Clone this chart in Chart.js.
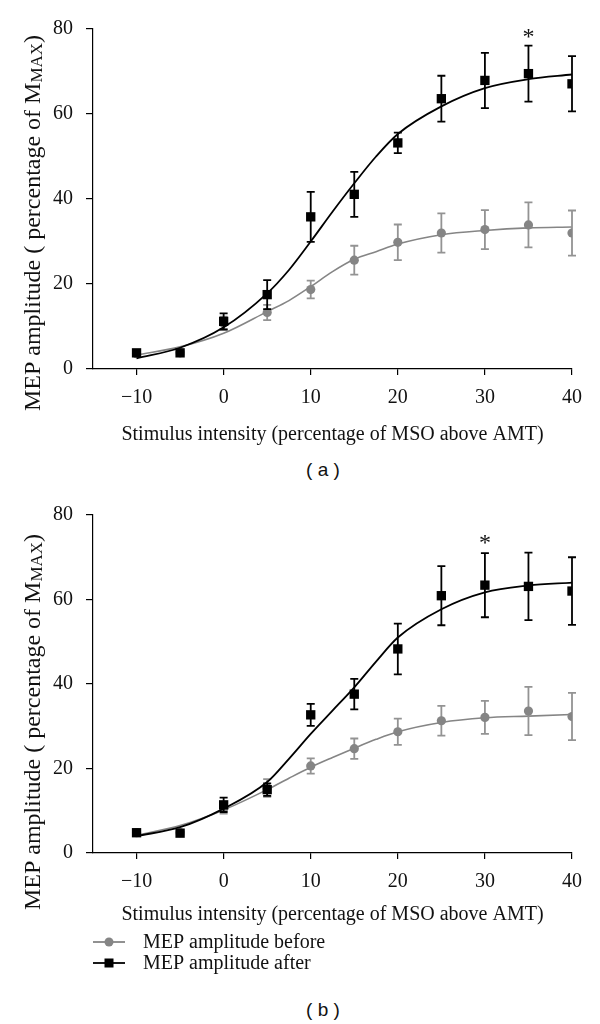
<!DOCTYPE html>
<html>
<head>
<meta charset="utf-8">
<script src="https://cdn.jsdelivr.net/npm/chart.js@4.4.1/dist/chart.umd.min.js"></script>
<style>
  body { margin: 0; background: #fff; width: 600px; height: 1024px; position: relative; overflow: hidden; }
  canvas { position: absolute; left: 0; }
  #chartA { top: 0; }
  #chartB { top: 490px; }
  .panel-label { position: absolute; left: 273px; width: 100px; text-align: center;
    font: 19px "Liberation Sans", Arial, sans-serif; line-height: 20px; color: #111; }
</style>
</head>
<body>
<canvas id="chartA" width="600" height="450"></canvas>
<div class="panel-label" style="top:460px">( a )</div>
<canvas id="chartB" width="600" height="490"></canvas>
<div class="panel-label" style="top:1000px">( b )</div>

<script>
// stimulus intensities where MEPs were recorded
const xValues = [-10, -5, 0, 5, 10, 15, 20, 25, 30, 35, 40];
const xTicks = [-10, 0, 10, 20, 30, 40];
const yTicks = [0, 20, 40, 60, 80];
const seriesLabels = ['MEP amplitude before', 'MEP amplitude after'];
const yTitleMain = 'MEP amplitude ( percentage of M';
const yTitleSub = 'MAX';
const xTitle = 'Stimulus intensity (percentage of MSO above AMT)';

// panel (a)
const beforeA    = [3.6, 3.8, 10.8, 13.3, 18.7, 25.6, 29.8, 32.0, 32.8, 33.9, 32.0];
const beforeErrA = [0.5, 0.5, 1.5, 1.8, 2.1, 3.4, 4.2, 4.6, 4.6, 5.3, 5.3];
const afterA     = [3.8, 3.8, 11.2, 17.5, 35.8, 41.1, 53.2, 63.6, 67.9, 69.5, 67.1];
const afterErrA  = [0.5, 0.5, 1.9, 3.4, 5.9, 5.3, 2.4, 5.4, 6.5, 6.6, 6.5];

// panel (b)
const beforeB    = [4.8, 4.8, 10.5, 15.4, 20.6, 24.7, 28.7, 31.3, 32.1, 33.6, 32.3];
const beforeErrB = [0.5, 0.5, 1.2, 2.1, 1.8, 2.4, 3.1, 3.5, 3.9, 5.7, 5.6];
const afterB     = [4.8, 4.7, 11.4, 15.0, 32.7, 37.6, 48.3, 60.9, 63.4, 63.1, 62.0];
const afterErrB  = [0.6, 0.5, 1.7, 1.5, 2.6, 3.6, 6.0, 7.0, 7.6, 8.0, 8.0];

// fitted sigmoid curves
const fitX       = [-10, -5, 0, 5, 7.5, 10, 12.5, 15, 17.5, 20, 25, 30, 35, 40];
const fitBeforeA = [3.3, 5.2, 8.4, 13.5, 16.1, 19.4, 22.9, 25.8, 27.6, 29.4, 31.6, 32.6, 33.2, 33.4];
const fitAfterA  = [2.5, 5.0, 9.8, 17.8, 23.3, 30.0, 37.0, 43.7, 50.0, 55.3, 61.8, 66.1, 68.2, 69.3];
const fitBeforeB = [4.2, 6.5, 10.2, 15.0, 17.7, 20.3, 22.6, 24.8, 26.9, 28.7, 30.9, 32.0, 32.4, 32.8];
const fitAfterB  = [4.0, 6.1, 10.5, 16.8, 22.3, 28.2, 33.7, 39.2, 45.3, 51.0, 57.7, 61.7, 63.3, 64.0];

// significance markers
const starA = { x: 35, y: 79.3 };
const starB = { x: 30, y: 74.6 };

const GRAY = '#858585';
const GRAY_ERR = '#939393';
const BLACK = '#000';
const SERIF = '"Liberation Serif", "Times New Roman", serif';

Chart.defaults.font.family = SERIF;
Chart.defaults.font.size = 20;
Chart.defaults.color = '#111';

const pts = (xs, ys) => xs.map((x, i) => ({ x: x, y: ys[i] }));

const errorBars = {
  id: 'errorBars',
  beforeDatasetDraw(chart, args) {
    const ds = chart.data.datasets[args.index];
    if (!ds.errors) return;
    const { ctx, scales: { x, y } } = chart;
    ctx.save();
    ctx.strokeStyle = ds.errorColor;
    ctx.lineWidth = 1.8;
    ds.data.forEach((p, i) => {
      const e = ds.errors[i];
      const px = x.getPixelForValue(p.x);
      const top = y.getPixelForValue(p.y + e);
      const bot = y.getPixelForValue(p.y - e);
      ctx.beginPath();
      ctx.moveTo(px, top); ctx.lineTo(px, bot);
      ctx.moveTo(px - 4, top); ctx.lineTo(px + 4, top);
      ctx.moveTo(px - 4, bot); ctx.lineTo(px + 4, bot);
      ctx.stroke();
    });
    ctx.restore();
  }
};

// rotated y title with the MAX subscript, plus the asterisk
const annotations = {
  id: 'annotations',
  afterDraw(chart, args, opts) {
    const { ctx, scales: { x, y } } = chart;
    const big = '24px ' + SERIF, small = '17px ' + SERIF;
    ctx.save();
    ctx.fillStyle = '#111';
    ctx.translate(opts.titleX, opts.titleY);
    ctx.rotate(-Math.PI / 2);
    ctx.textBaseline = 'alphabetic';
    ctx.font = big;
    const w1 = ctx.measureText(yTitleMain).width;
    const w3 = ctx.measureText(')').width;
    ctx.font = small;
    const w2 = ctx.measureText(yTitleSub).width;
    let cx = -(w1 + w2 + w3) / 2;
    ctx.font = big;
    ctx.fillText(yTitleMain, cx, 0);
    cx += w1;
    ctx.font = small;
    ctx.fillText(yTitleSub, cx, 2);
    cx += w2;
    ctx.font = big;
    ctx.fillText(')', cx, 0);
    ctx.restore();

    ctx.save();
    ctx.fillStyle = '#111';
    ctx.font = '24px ' + SERIF;
    ctx.textAlign = 'center';
    ctx.textBaseline = 'alphabetic';
    ctx.fillText('*', x.getPixelForValue(opts.star.x), y.getPixelForValue(opts.star.y) + 12);
    ctx.restore();
  }
};

const legendBelow = {
  id: 'legendBelow',
  afterDraw(chart, args, opts) {
    if (!opts.display) return;
    const { ctx } = chart;
    const styles = [
      { color: GRAY, marker: 'circle' },
      { color: BLACK, marker: 'rect' }
    ];
    seriesLabels.forEach((label, i) => {
      const yy = opts.top + i * opts.rowGap;
      const st = styles[i];
      ctx.save();
      ctx.strokeStyle = st.color;
      ctx.lineWidth = 1.8;
      ctx.beginPath();
      ctx.moveTo(opts.left, yy);
      ctx.lineTo(opts.left + 32, yy);
      ctx.stroke();
      ctx.fillStyle = st.color;
      if (st.marker === 'circle') {
        ctx.beginPath();
        ctx.arc(opts.left + 16, yy, 4.5, 0, Math.PI * 2);
        ctx.fill();
      } else {
        ctx.fillRect(opts.left + 16 - 4.5, yy - 4.5, 9, 9);
      }
      ctx.fillStyle = '#111';
      ctx.font = '20px ' + SERIF;
      ctx.textBaseline = 'middle';
      ctx.fillText(label, opts.left + 50, yy + 1);
      ctx.restore();
    });
  }
};

function makeChart(id, d) {
  const ctx = document.getElementById(id).getContext('2d');
  return new Chart(ctx, {
    type: 'scatter',
    data: {
      datasets: [
        {
          label: seriesLabels[1],
          data: pts(xValues, d.after),
          errors: d.afterErr,
          errorColor: BLACK,
          pointStyle: 'rect',
          pointRadius: 6.6,
          backgroundColor: BLACK,
          borderColor: BLACK,
          borderWidth: 0
        },
        {
          label: 'fit after',
          data: pts(fitX, d.fitAfter),
          showLine: true,
          cubicInterpolationMode: 'monotone',
          borderColor: BLACK,
          borderWidth: 1.8,
          pointRadius: 0
        },
        {
          label: seriesLabels[0],
          data: pts(xValues, d.before),
          errors: d.beforeErr,
          errorColor: GRAY_ERR,
          pointStyle: 'circle',
          pointRadius: 4.6,
          backgroundColor: GRAY,
          borderColor: GRAY,
          borderWidth: 0
        },
        {
          label: 'fit before',
          data: pts(fitX, d.fitBefore),
          showLine: true,
          cubicInterpolationMode: 'monotone',
          borderColor: GRAY,
          borderWidth: 1.6,
          pointRadius: 0
        }
      ]
    },
    options: {
      responsive: false,
      animation: false,
      events: [],
      layout: { padding: { top: d.padTop, right: 28, left: 0, bottom: 0 } },
      scales: {
        x: {
          type: 'linear',
          min: -15,
          max: 40,
          afterBuildTicks: s => { s.ticks = xTicks.map(v => ({ value: v })); },
          afterFit: s => { s.height = d.xHeight; },
          ticks: {
            padding: 11,
            maxRotation: 0,
            callback: v => (v < 0 ? '\u2212' + Math.abs(v) : String(v))
          },
          grid: { drawOnChartArea: false, drawTicks: true, tickLength: 6, color: BLACK, lineWidth: 1.2 },
          border: { display: true, color: BLACK, width: 1.2 },
          title: { display: true, text: xTitle, padding: { top: 0, bottom: d.xTitlePad } }
        },
        y: {
          min: 0,
          max: 80,
          afterBuildTicks: s => { s.ticks = yTicks.map(v => ({ value: v })); },
          afterFit: s => { s.width = 93; },
          ticks: { padding: 13 },
          grid: { drawOnChartArea: false, drawTicks: true, tickLength: 7, color: BLACK, lineWidth: 1.2 },
          border: { display: true, color: BLACK, width: 1.2 }
        }
      },
      plugins: {
        legend: { display: false },
        tooltip: { enabled: false },
        annotations: { titleX: 40, titleY: d.titleY, star: d.star },
        legendBelow: { display: d.showLegend, left: 93, top: 452, rowGap: 21 }
      }
    },
    plugins: [errorBars, annotations, legendBelow]
  });
}

makeChart('chartA', {
  before: beforeA, beforeErr: beforeErrA, after: afterA, afterErr: afterErrA,
  fitBefore: fitBeforeA, fitAfter: fitAfterA,
  padTop: 29, xHeight: 81, xTitlePad: 3, titleY: 223, star: starA, showLegend: false
});

makeChart('chartB', {
  before: beforeB, beforeErr: beforeErrB, after: afterB, afterErr: afterErrB,
  fitBefore: fitBeforeB, fitAfter: fitAfterB,
  padTop: 24, xHeight: 127, xTitlePad: 53, titleY: 232, star: starB, showLegend: true
});
</script>
</body>
</html>
